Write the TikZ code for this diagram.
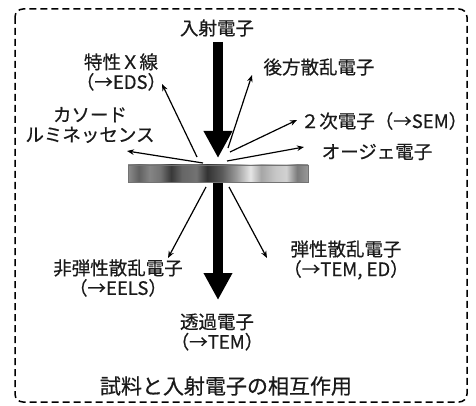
\documentclass[tikz,border=0pt]{standalone}
\usepackage{fontspec}
\newfontfamily\jp[FakeBold=0.6]{Noto Sans CJK JP}
\usetikzlibrary{arrows.meta}
\definecolor{txt}{HTML}{1A1A1A}
\pgfdeclarehorizontalshading{slabshade}{100bp}{%
  color(0bp)=(black!45);
  color(25bp)=(black!45);
  color(28bp)=(black!62);
  color(31bp)=(black!48);
  color(34bp)=(black!55);
  color(37bp)=(black!78);
  color(40bp)=(black!60);
  color(44bp)=(black!55);
  color(47bp)=(black!80);
  color(51bp)=(black!65);
  color(55bp)=(black!40);
  color(59bp)=(black!10);
  color(62bp)=(black!35);
  color(66bp)=(black!22);
  color(69bp)=(black!18);
  color(72bp)=(black!52);
  color(75bp)=(black!40);
  color(100bp)=(black!40)}
\begin{document}
\begin{tikzpicture}[x=1pt,y=-1pt,
  lbl/.style={font=\jp\fontsize{18.5}{20}\selectfont, text=txt, inner sep=0pt, align=center},
  ttl/.style={font=\jp\fontsize{21}{24}\selectfont, text=txt, inner sep=0pt},
  thinarrow/.style={line width=1.2pt, draw=black, -{Stealth[length=7pt,width=5.5pt]}},
  bigarrow/.style={line width=10pt, draw=black, -{Triangle[length=27pt,width=27pt]}},
  slab/.style={draw=black!55, line width=0.6pt, shading=slabshade, minimum width=180pt, minimum height=17pt, inner sep=0pt}]
\useasboundingbox (0,0) rectangle (476,406);
% frame
\draw[line width=1.5pt, dash pattern=on 7pt off 4pt, rounded corners=8pt] (15,9) rectangle (467,402);
% sample
\node[slab] (sample) at (218,173.5) {};
% labels
\node[lbl] (in) at (217,28) {入射電子};
\node[lbl] (xray) at (121,72) {特性Ｘ線\\（→EDS）};
\node[lbl] (bse) at (319,67) {後方散乱電子};
\node[lbl] (cl) at (90,125) {カソード\\ルミネッセンス};
\node[lbl] (se) at (384,121) {２次電子（→SEM）};
\node[lbl] (auger) at (377,152) {オージェ電子};
\node[lbl] (inel) at (118,278) {非弾性散乱電子\\（→EELS）};
\node[lbl] (el) at (346,260) {弾性散乱電子\\（→TEM, ED）};
\node[lbl] (trans) at (217,332) {透過電子\\（→TEM）};
\node[ttl] (title) at (226,386) {試料と入射電子の相互作用};
% coordinates
\coordinate (inTop) at (218,42);
\coordinate (inTip) at (218,158);
\coordinate (trTop) at (218,183);
\coordinate (trTip) at (218,300);
\coordinate (clS) at (203,163);  \coordinate (clE) at (127,151);
\coordinate (xS) at (197,157);   \coordinate (xE) at (162,84);
\coordinate (bS) at (228,148);   \coordinate (bE) at (252,75);
\coordinate (sS) at (230,152);   \coordinate (sE) at (297,120);
\coordinate (aS) at (227,161);   \coordinate (aE) at (304,147);
\coordinate (iS) at (206,187);   \coordinate (iE) at (168,258);
\coordinate (eS) at (229,187);   \coordinate (eE) at (267,258);
% arrows
\draw[bigarrow] (inTop) -- (inTip);
\draw[bigarrow] (trTop) -- (trTip);
\draw[thinarrow] (clS) -- (clE);
\draw[thinarrow] (xS) -- (xE);
\draw[thinarrow] (bS) -- (bE);
\draw[thinarrow] (sS) -- (sE);
\draw[thinarrow] (aS) -- (aE);
\draw[thinarrow] (iS) -- (iE);
\draw[thinarrow] (eS) -- (eE);
\end{tikzpicture}
\end{document}
